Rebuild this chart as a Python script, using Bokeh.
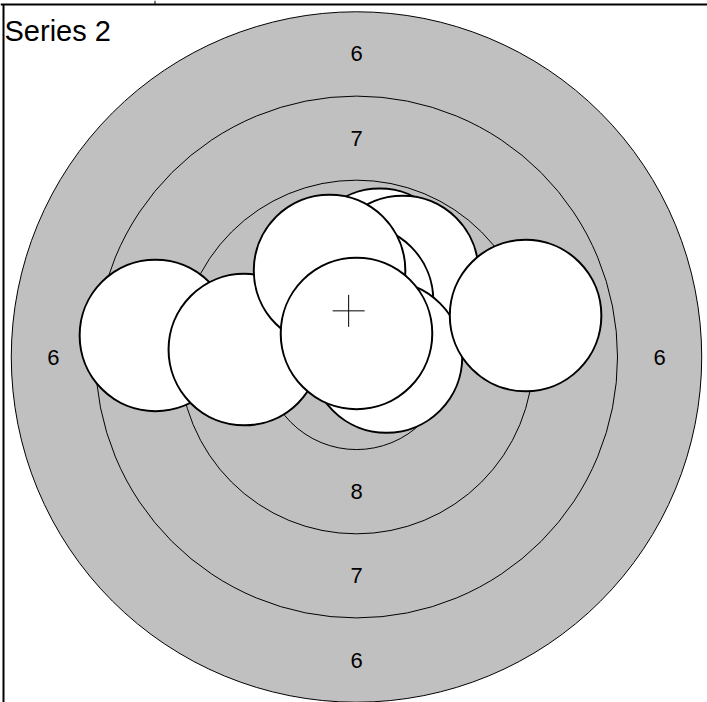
from bokeh.plotting import figure
from bokeh.core.properties import value
from bokeh.embed import file_html
from bokeh.resources import INLINE

# ---- data (10 m target, millimetres) ----
ring_numbers = [6, 7, 8, 9, 10]
ring_radii = [10.25, 7.75, 5.25, 2.75, 0.25]
band_labels = ["6", "7", "8", "9"]
pellet_radius = 2.25
# shots in drawing order (last drawn on top)
shot_x = [-5.97, -3.33, 0.69, 1.37, 0.03, -0.80, 0.89, 5.02, 0.00]
shot_y = [0.64, 0.22, 2.75, 2.54, 1.68, 2.57, 0.00, 1.23, 0.70]
series_name = "Series 2"

# ---- layout constants ----
W, H = 707, 702
px_per_mm = 33.68
cx_px, cy_px = 356.0, 356.5  # target centre inside the figure


def px_x(px):
    return (px - cx_px) / px_per_mm


def px_y(py):
    return (cy_px - py) / px_per_mm


x0, x1 = px_x(0), px_x(W)
y0, y1 = px_y(H), px_y(0)

p = figure(width=W, height=H, x_range=(x0, x1), y_range=(y0, y1),
           output_backend="svg", toolbar_location=None,
           x_axis_location=None, y_axis_location=None,
           min_border=0, min_border_left=0, min_border_right=0,
           min_border_top=0, min_border_bottom=0)
p.grid.visible = False
p.outline_line_color = None
p.background_fill_color = "white"
p.border_fill_color = "white"

FONT = value("Liberation Sans")

# outer disc (ring 6) grey
p.circle(x=[0], y=[0], radius=[ring_radii[0]], fill_color="#c0c0c0",
         line_color="black", line_width=1)
# inner ring lines
p.circle(x=[0] * (len(ring_radii) - 1), y=[0] * (len(ring_radii) - 1),
         radius=ring_radii[1:], fill_color=None, line_color="black", line_width=1)

# band labels at mid-band in 4 directions
lx, ly, lt = [], [], []
for i, lab in enumerate(band_labels):
    r = (ring_radii[i] + ring_radii[i + 1]) / 2
    for dx, dy in [(0, 1), (0, -1), (-1, 0), (1, 0)]:
        lx.append(dx * r)
        ly.append(dy * r)
        lt.append(lab)
p.text(x=lx, y=ly, text=lt, text_font=FONT, text_font_size="22px",
       text_color="black", text_align="center", text_baseline="middle")

# shots
p.circle(x=shot_x, y=shot_y, radius=pellet_radius, fill_color="white",
         line_color="black", line_width=2)

# mean point of impact
mx = sum(shot_x) / len(shot_x)
my = sum(shot_y) / len(shot_y)
p.scatter(x=[mx], y=[my], marker="cross", size=32, line_color="black",
          line_width=1)

# frame lines (top and left) plus small tick
p.line(x=[px_x(0), px_x(W)], y=[px_y(4), px_y(4)], line_color="black", line_width=2)
p.line(x=[px_x(3), px_x(3)], y=[px_y(4), px_y(H)], line_color="black", line_width=2)
p.line(x=[px_x(154.5), px_x(154.5)], y=[px_y(0), px_y(4)], line_color="black", line_width=1)

# series name
p.text(x=[px_x(4)], y=[px_y(30.5)], text=[series_name], text_font=FONT,
       text_font_size="29px", text_color="black", text_align="left",
       text_baseline="alphabetic")

open("out.html", "w").write(file_html(p, INLINE))
